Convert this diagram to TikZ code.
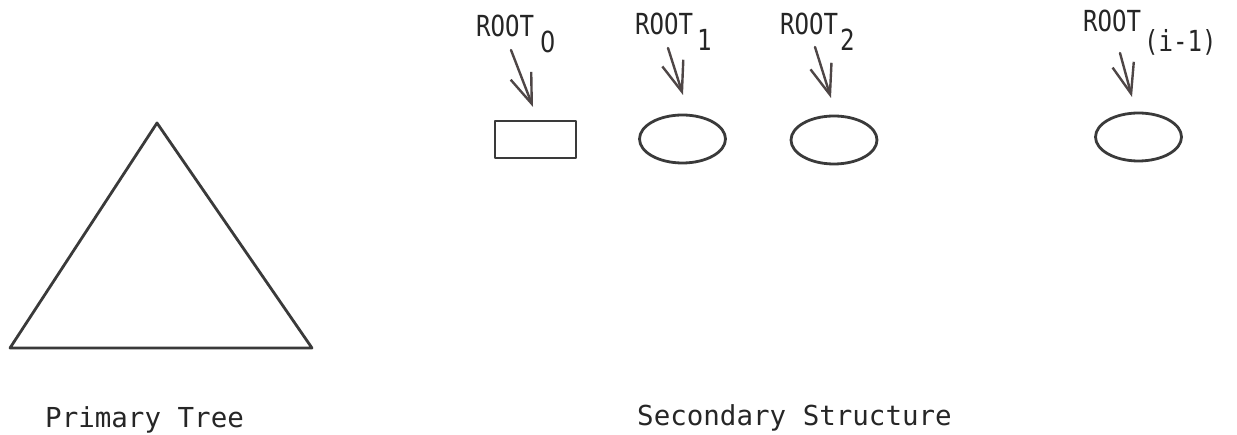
\documentclass[tikz,border=0pt]{standalone}
\usepackage{fontspec}
\usetikzlibrary{arrows.meta,shapes.geometric}
\newfontfamily\lblfont[FakeStretch=0.83]{DejaVu Sans Mono}
\newfontfamily\digitfont[FakeStretch=0.83]{DejaVu Sans}
\newfontfamily\capfont{DejaVu Sans Mono}
\definecolor{ink}{HTML}{3A3A3A}
\definecolor{pencil}{HTML}{4E4646}
\tikzset{
  ink line/.style={draw=ink, line width=2.8pt, line join=round},
  rootlabel/.style={anchor=base west, inner sep=0pt, text=black!85,
    font=\lblfont\fontsize{29}{30}\selectfont},
  caption/.style={anchor=base west, inner sep=0pt, text=black!85,
    font=\capfont\fontsize{27.5}{30}\selectfont},
  boxnode/.style={ink line, rectangle, minimum width=81pt, minimum height=37pt, inner sep=0pt},
  ovalnode/.style={ink line, ellipse, minimum width=86pt, minimum height=48pt, inner sep=0pt},
  pointer/.style={draw=pencil, line width=2.4pt, line cap=round,
    -{Straight Barb[length=30pt,width=22pt,line width=2.4pt]}}
}
\newcommand{\rootsub}[2]{ROOT\hspace{#1pt}\raisebox{-16pt}{#2}}
\begin{document}
\begin{tikzpicture}[x=1pt,y=-1pt]
  \useasboundingbox (0,0) rectangle (1237,435);

  % primary tree
  \coordinate (apex) at (157,123);
  \coordinate (bl) at (10,348);
  \coordinate (br) at (312,348);
  \draw[ink line] (apex) -- (bl) -- (br) -- cycle;

  % secondary structure roots
  \node[boxnode]  (r0) at (535.5,139.5) {};
  \node[ovalnode] (r1) at (682.5,139) {};
  \node[ovalnode] (r2) at (834,140) {};
  \node[ovalnode] (ri) at (1138.5,137) {};

  % labels
  \node[rootlabel] (l0) at (476,37) {\rootsub{6}{{\digitfont 0}}};
  \node[rootlabel] (l1) at (635,35) {\rootsub{4}{1}};
  \node[rootlabel] (l2) at (780,35) {\rootsub{2}{2}};
  \node[rootlabel] (li) at (1083,32) {ROOT\hspace{3pt}\raisebox{-20pt}{(i-1)}};

  % pointers from labels towards the roots
  \coordinate (t0) at (511,50);  \coordinate (h0) at (533,107);
  \coordinate (t1) at (668,48);  \coordinate (h1) at (683,95);
  \coordinate (t2) at (815,47);  \coordinate (h2) at (831,98);
  \coordinate (ti) at (1120,53); \coordinate (hi) at (1132,97);
  \draw[pointer] (t0) -- (h0);
  \draw[pointer] (t1) -- (h1);
  \draw[pointer] (t2) -- (h2);
  \draw[pointer] (ti) -- (hi);

  % captions
  \node[caption] (cap1) at (45,428) {Primary Tree};
  \node[caption] (cap2) at (637,425) {Secondary Structure};
\end{tikzpicture}
\end{document}
